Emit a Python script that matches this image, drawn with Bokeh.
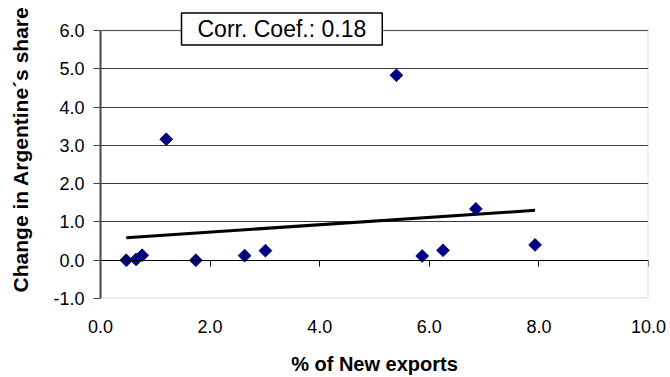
import numpy as np
from bokeh.plotting import figure
from bokeh.models import (Range1d, FixedTicker, PrintfTickFormatter, LinearAxis,
                          Label, ColumnDataSource, BoxAnnotation)
from bokeh.embed import file_html
from bokeh.resources import INLINE

# ---- data ----
new_exports = [0.47, 0.65, 0.76, 1.20, 1.74, 2.63, 3.01, 5.40, 5.87, 6.25, 6.85, 7.93]
share_change = [0.00, 0.02, 0.13, 3.16, 0.00, 0.12, 0.25, 4.83, 0.11, 0.26, 1.34, 0.40]
x_ticks = [0, 2, 4, 6, 8, 10]
y_ticks = [-1, 0, 1, 2, 3, 4, 5, 6]
corr_text = "Corr. Coef.: 0.18"
x_title = "% of New exports"
y_title = "Change in Argentine\u00b4s share"

FONT = "Liberation Sans"

X_MIN, X_MAX = 0, 10
Y_MIN, Y_MAX = -1, 6
# The frame is stretched to the top of the canvas so that the correlation
# box (which sits across the top edge of the plot area) is not clipped.
FRAME_H = 298          # frame height in px (top of canvas to plot bottom)
TOP_GAP = 30           # px between canvas top and the 6.0 line
y_end = (Y_MAX * FRAME_H - TOP_GAP * Y_MIN) / (FRAME_H - TOP_GAP)

p = figure(width=670, height=377, output_backend="svg", toolbar_location=None,
           x_range=Range1d(X_MIN, X_MAX), y_range=Range1d(Y_MIN, y_end),
           min_border_left=100, min_border_right=22, min_border_top=0,
           min_border_bottom=377 - FRAME_H)
p.background_fill_color = "white"
p.border_fill_color = "white"
p.outline_line_color = None

# grid
p.xgrid.visible = False
p.ygrid.ticker = FixedTicker(ticks=y_ticks)
p.ygrid.grid_line_color = "#3a3a3a"
p.ygrid.grid_line_width = 1

# plot-area border (grey) around the real data area
p.add_layout(BoxAnnotation(left=X_MIN, right=X_MAX, bottom=Y_MIN, top=Y_MAX,
                           fill_alpha=0, fill_color=None,
                           line_color="#8f8f8f", line_width=2))

# y axis
ya = p.yaxis[0]
ya.ticker = FixedTicker(ticks=y_ticks)
ya.bounds = (Y_MIN, Y_MAX)
ya.formatter = PrintfTickFormatter(format="%.1f")
ya.axis_line_color = "#404040"
ya.axis_line_width = 2
ya.major_tick_line_color = "#404040"
ya.major_tick_out = 7
ya.major_tick_in = 0
ya.minor_tick_line_color = None
ya.major_label_standoff = 9
ya.major_label_text_font = FONT
ya.major_label_text_font_size = "18px"
ya.major_label_text_color = "black"
ya.axis_label = y_title
ya.axis_label_text_font = FONT
ya.axis_label_text_font_size = "21px"
ya.axis_label_text_font_style = "bold"
ya.axis_label_text_color = "black"
ya.axis_label_standoff = 18

# x axis (labels only, at bottom of frame)
xa = p.xaxis[0]
xa.ticker = FixedTicker(ticks=x_ticks)
xa.formatter = PrintfTickFormatter(format="%.1f")
xa.axis_line_color = None
xa.major_tick_line_color = None
xa.minor_tick_line_color = None
xa.major_tick_out = 0
xa.major_tick_in = 0
xa.major_label_standoff = 21
xa.major_label_text_font = FONT
xa.major_label_text_font_size = "18px"
xa.major_label_text_color = "black"
xa.axis_label = x_title
xa.axis_label_text_font = FONT
xa.axis_label_text_font_size = "20px"
xa.axis_label_text_font_style = "bold"
xa.axis_label_text_color = "black"
xa.axis_label_standoff = 17

# x axis line with downward ticks crossing at y = 0
xa0 = LinearAxis(fixed_location=0, ticker=FixedTicker(ticks=x_ticks))
xa0.axis_line_color = "black"
xa0.axis_line_width = 1
xa0.major_tick_line_color = "black"
xa0.major_tick_out = 6
xa0.major_tick_in = 0
xa0.minor_tick_line_color = None
xa0.major_label_text_font_size = "0px"
xa0.major_label_text_color = None
xa0.major_label_standoff = 0
p.add_layout(xa0, "below")

# trend line (least squares fit of the points)
xs = np.array(new_exports)
ys = np.array(share_change)
slope, intercept = np.polyfit(xs, ys, 1)
tx = [xs.min(), xs.max()]
ty = [slope * v + intercept for v in tx]
p.line(tx, ty, line_color="black", line_width=3)

# points
src = ColumnDataSource(data=dict(x=new_exports, y=share_change))
p.scatter("x", "y", source=src, marker="square", size=9, angle=np.pi / 4,
          fill_color="#000080", line_color="#000080")

# correlation box
lbl = Label(x=3.31, y=6.04, text=corr_text, text_align="center",
            text_baseline="middle", text_font=FONT, text_font_size="23px",
            text_color="black", background_fill_color="white",
            border_line_color="black", border_line_width=1.5,
            padding=(16, 3), level="overlay")
p.add_layout(lbl)

open("out.html", "w").write(file_html(p, INLINE))
